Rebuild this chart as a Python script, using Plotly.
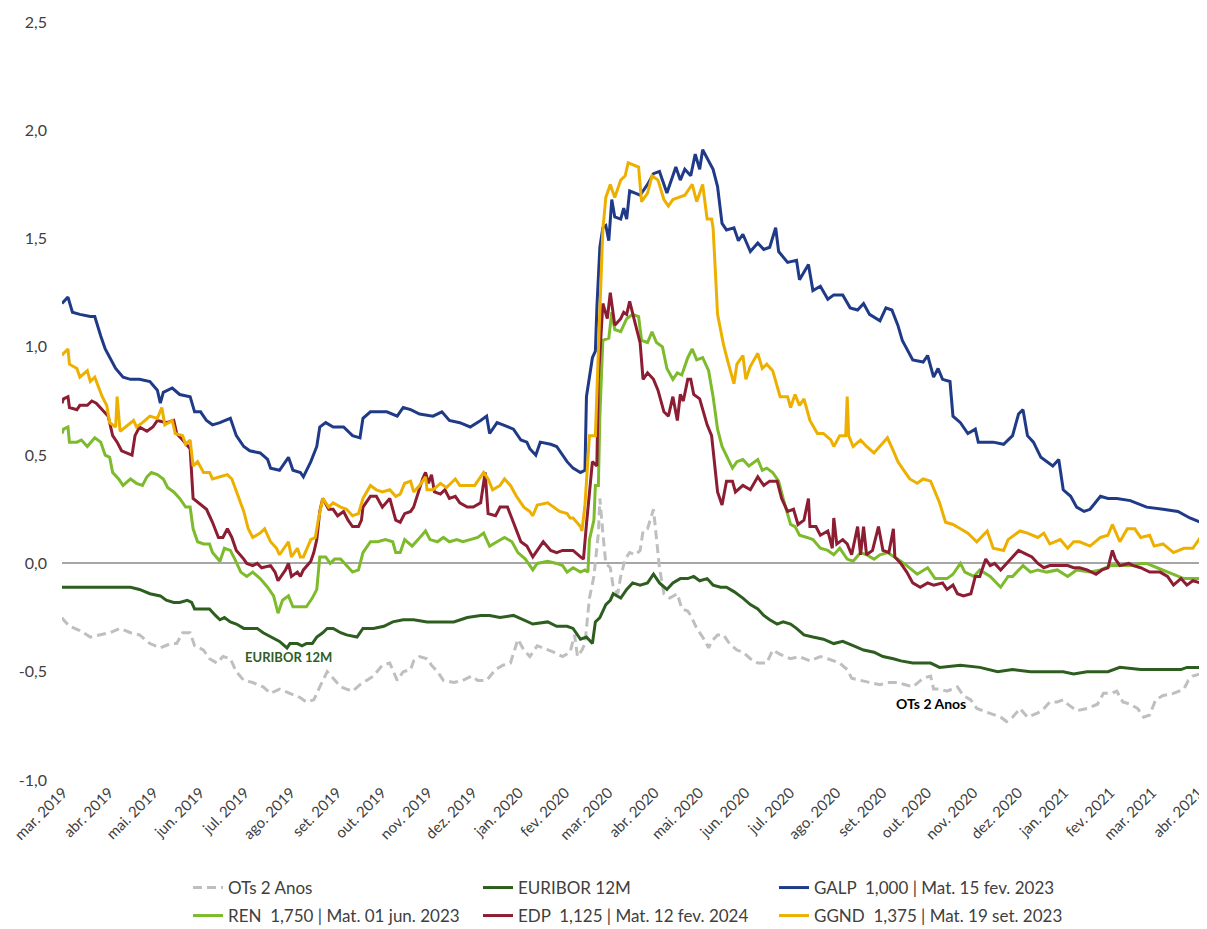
import pandas as pd
import plotly.graph_objects as go

START = pd.Timestamp("2019-03-01")

# (days since 2019-03-01, value)
ots_2anos = [(0,-0.25),(1,-0.26),(5,-0.29),(12,-0.31),(19,-0.34),(26,-0.33),(32,-0.32),(39,-0.30),(46,-0.32),(52,-0.33),(59,-0.37),(66,-0.39),(73,-0.37),(77,-0.37),(81,-0.32),(86,-0.32),(89,-0.38),(95,-0.40),(99,-0.44),(104,-0.46),(108,-0.43),(113,-0.44),(117,-0.50),(122,-0.54),(128,-0.55),(135,-0.57),(140,-0.60),(146,-0.58),(153,-0.60),(160,-0.62),(164,-0.64),(169,-0.63),(173,-0.57),(178,-0.50),(182,-0.53),(187,-0.57),(191,-0.58),(195,-0.59),(200,-0.56),(205,-0.54),(209,-0.52),(215,-0.47),(220,-0.46),(225,-0.54),(229,-0.50),(234,-0.49),(236,-0.45),(240,-0.43),(245,-0.44),(248,-0.47),(252,-0.50),(256,-0.54),(263,-0.55),(269,-0.54),(275,-0.52),(279,-0.54),(285,-0.54),(291,-0.49),(296,-0.47),(301,-0.46),(304,-0.40),(306,-0.35),(310,-0.40),(314,-0.43),(319,-0.38),(323,-0.39),(330,-0.41),(336,-0.43),(341,-0.41),(344,-0.33),(346,-0.43),(349,-0.40),(351,-0.37),(354,-0.16),(357,-0.06),(360,0.14),(361,0.30),(363,0.14),(365,0.00),(368,-0.02),(370,-0.11),(373,-0.14),(375,-0.06),(378,0.02),(381,0.05),(385,0.04),(388,0.06),(390,0.15),(393,0.16),(397,0.25),(399,0.12),(401,-0.02),(404,-0.14),(408,-0.16),(413,-0.14),(416,-0.21),(420,-0.22),(422,-0.24),(426,-0.30),(430,-0.34),(434,-0.39),(436,-0.36),(440,-0.33),(444,-0.33),(448,-0.37),(453,-0.40),(457,-0.41),(462,-0.44),(467,-0.46),(473,-0.46),(477,-0.40),(482,-0.42),(489,-0.44),(495,-0.43),(502,-0.45),(509,-0.43),(514,-0.44),(518,-0.45),(522,-0.46),(527,-0.49),(530,-0.53),(536,-0.54),(542,-0.55),(549,-0.56),(554,-0.55),(561,-0.55),(566,-0.56),(571,-0.57),(578,-0.53),(583,-0.52),(585,-0.58),(589,-0.58),(594,-0.59),(601,-0.57),(605,-0.61),(610,-0.63),(614,-0.67),(618,-0.68),(623,-0.69),(630,-0.71),(634,-0.73),(638,-0.71),(643,-0.67),(648,-0.71),(655,-0.69),(659,-0.67),(663,-0.64),(668,-0.64),(672,-0.63),(675,-0.65),(681,-0.68),(688,-0.67),(695,-0.65),(699,-0.60),(704,-0.60),(708,-0.59),(712,-0.64),(717,-0.65),(722,-0.67),(726,-0.71),(730,-0.70),(734,-0.63),(739,-0.61),(746,-0.60),(753,-0.58),(756,-0.54),(759,-0.52),(764,-0.51),(769,-0.53)]

euribor_12m = [(0,-0.11),(26,-0.11),(46,-0.11),(52,-0.12),(59,-0.14),(66,-0.15),(70,-0.17),(75,-0.18),(79,-0.18),(84,-0.17),(87,-0.18),(89,-0.21),(99,-0.21),(103,-0.24),(106,-0.26),(109,-0.25),(113,-0.27),(117,-0.28),(122,-0.30),(126,-0.30),(131,-0.30),(135,-0.32),(140,-0.34),(146,-0.36),(151,-0.39),(153,-0.37),(158,-0.37),(161,-0.38),(164,-0.37),(168,-0.37),(171,-0.34),(175,-0.32),(178,-0.30),(182,-0.30),(187,-0.32),(191,-0.33),(198,-0.34),(202,-0.30),(209,-0.30),(216,-0.29),(222,-0.27),(229,-0.26),(236,-0.26),(245,-0.27),(254,-0.27),(263,-0.27),(272,-0.25),(281,-0.24),(287,-0.24),(294,-0.25),(303,-0.24),(310,-0.26),(316,-0.28),(326,-0.27),(332,-0.29),(339,-0.29),(343,-0.30),(348,-0.35),(352,-0.34),(356,-0.37),(358,-0.27),(361,-0.25),(365,-0.19),(368,-0.17),(370,-0.14),(375,-0.16),(379,-0.12),(383,-0.09),(388,-0.10),(393,-0.09),(397,-0.05),(401,-0.09),(406,-0.12),(410,-0.09),(415,-0.07),(420,-0.07),(424,-0.06),(428,-0.08),(433,-0.07),(437,-0.10),(442,-0.11),(446,-0.11),(451,-0.13),(457,-0.16),(462,-0.19),(467,-0.21),(471,-0.24),(475,-0.26),(480,-0.28),(484,-0.27),(489,-0.28),(493,-0.30),(498,-0.33),(504,-0.34),(511,-0.35),(518,-0.37),(524,-0.36),(531,-0.38),(538,-0.40),(545,-0.41),(551,-0.43),(558,-0.44),(563,-0.45),(571,-0.46),(583,-0.46),(589,-0.48),(603,-0.47),(616,-0.48),(628,-0.50),(638,-0.49),(650,-0.50),(661,-0.50),(672,-0.50),(679,-0.51),(688,-0.50),(702,-0.50),(710,-0.48),(724,-0.49),(737,-0.49),(751,-0.49),(755,-0.48),(769,-0.48)]

galp = [(0,1.20),(4,1.23),(7,1.16),(12,1.15),(19,1.14),(22,1.14),(26,1.05),(29,0.99),(36,0.90),(41,0.86),(46,0.85),(52,0.85),(59,0.84),(64,0.80),(66,0.74),(68,0.79),(74,0.81),(79,0.78),(86,0.77),(89,0.70),(93,0.70),(97,0.66),(101,0.64),(106,0.65),(113,0.67),(117,0.59),(122,0.54),(126,0.52),(133,0.51),(138,0.48),(140,0.44),(146,0.43),(152,0.49),(155,0.43),(160,0.42),(162,0.40),(167,0.47),(171,0.54),(173,0.63),(177,0.65),(182,0.63),(189,0.63),(195,0.59),(200,0.58),(202,0.67),(207,0.70),(218,0.70),(225,0.68),(229,0.72),(234,0.71),(240,0.69),(249,0.68),(255,0.70),(260,0.66),(267,0.65),(274,0.63),(281,0.66),(285,0.68),(287,0.60),(292,0.65),(296,0.64),(303,0.62),(308,0.57),(312,0.56),(314,0.53),(318,0.50),(321,0.56),(328,0.55),(332,0.54),(336,0.50),(339,0.47),(343,0.44),(348,0.42),(351,0.43),(352,0.77),(356,0.95),(358,0.98),(359,1.18),(361,1.46),(363,1.55),(365,1.56),(367,1.49),(369,1.68),(371,1.60),(375,1.59),(377,1.64),(379,1.59),(381,1.72),(388,1.70),(393,1.75),(397,1.80),(401,1.81),(404,1.75),(406,1.71),(412,1.83),(415,1.77),(418,1.82),(422,1.79),(425,1.89),(428,1.82),(430,1.91),(434,1.86),(437,1.82),(440,1.74),(443,1.57),(446,1.54),(451,1.55),(454,1.49),(457,1.52),(462,1.44),(467,1.48),(471,1.45),(475,1.46),(479,1.55),(481,1.44),(487,1.39),(493,1.40),(495,1.31),(501,1.38),(504,1.26),(509,1.28),(514,1.22),(518,1.24),(524,1.24),(529,1.18),(534,1.17),(538,1.20),(542,1.15),(549,1.12),(553,1.18),(557,1.17),(561,1.10),(564,1.03),(571,0.94),(578,0.93),(581,0.96),(585,0.86),(588,0.90),(591,0.85),(596,0.84),(598,0.68),(603,0.65),(608,0.60),(613,0.62),(615,0.56),(625,0.56),(632,0.55),(638,0.59),(642,0.69),(645,0.71),(648,0.59),(652,0.56),(657,0.49),(665,0.45),(669,0.48),(672,0.34),(677,0.31),(681,0.26),(686,0.24),(690,0.25),(697,0.31),(702,0.30),(708,0.30),(717,0.29),(728,0.26),(739,0.25),(749,0.24),(757,0.21),(764,0.19),(769,0.17)]

ren = [(0,0.60),(1,0.62),(4,0.63),(5,0.56),(10,0.56),(13,0.57),(17,0.54),(22,0.58),(26,0.56),(29,0.50),(32,0.49),(34,0.42),(38,0.39),(41,0.36),(46,0.39),(50,0.37),(54,0.36),(57,0.40),(60,0.42),(64,0.41),(68,0.39),(71,0.35),(75,0.33),(79,0.30),(83,0.26),(86,0.26),(88,0.16),(91,0.10),(95,0.09),(99,0.09),(101,0.05),(106,0.01),(109,0.07),(113,0.06),(116,0.02),(120,-0.04),(124,-0.06),(128,-0.04),(133,-0.07),(138,-0.11),(142,-0.15),(145,-0.23),(148,-0.17),(152,-0.15),(155,-0.20),(160,-0.20),(164,-0.20),(168,-0.16),(171,-0.12),(173,0.03),(177,0.03),(180,0.00),(183,0.02),(187,0.02),(191,-0.01),(195,-0.04),(199,-0.03),(202,0.05),(207,0.10),(212,0.10),(217,0.11),(222,0.10),(224,0.05),(227,0.05),(230,0.11),(235,0.08),(239,0.11),(244,0.15),(247,0.11),(252,0.10),(256,0.12),(260,0.10),(265,0.11),(269,0.10),(274,0.11),(279,0.12),(283,0.14),(287,0.08),(292,0.10),(297,0.12),(302,0.10),(306,0.05),(311,0.02),(316,-0.03),(319,0.00),(326,0.01),(332,0.00),(336,-0.01),(339,-0.04),(343,-0.02),(348,-0.04),(351,-0.03),(353,-0.04),(354,0.11),(357,0.20),(358,0.36),(360,0.36),(361,0.68),(363,1.03),(367,1.04),(369,1.16),(371,1.08),(375,1.07),(379,1.13),(383,1.15),(387,1.14),(389,1.03),(393,1.02),(396,1.07),(399,1.02),(403,1.00),(406,0.90),(410,0.85),(413,0.88),(416,0.87),(420,0.95),(423,0.99),(426,0.94),(430,0.95),(434,0.89),(437,0.77),(440,0.62),(443,0.54),(446,0.50),(450,0.44),(453,0.47),(457,0.48),(461,0.45),(467,0.48),(470,0.43),(473,0.44),(477,0.42),(481,0.38),(484,0.30),(489,0.18),(492,0.17),(495,0.13),(500,0.12),(504,0.11),(509,0.07),(514,0.06),(518,0.04),(522,0.07),(527,0.02),(531,0.01),(536,0.05),(540,0.04),(545,0.02),(549,0.04),(554,0.05),(559,0.03),(563,0.01),(567,-0.01),(574,-0.05),(581,-0.02),(586,-0.07),(594,-0.07),(598,-0.05),(603,0.00),(606,-0.04),(612,-0.06),(616,-0.03),(623,-0.06),(630,-0.11),(635,-0.06),(638,-0.06),(645,-0.01),(650,-0.04),(655,-0.03),(661,-0.04),(668,-0.03),(675,-0.06),(681,-0.03),(690,-0.04),(697,-0.03),(704,-0.01),(710,-0.01),(717,-0.01),(724,0.00),(728,0.00),(735,-0.02),(742,-0.04),(746,-0.05),(753,-0.07),(759,-0.07),(764,-0.07),(769,-0.07)]

edp = [(0,0.74),(1,0.76),(4,0.77),(5,0.72),(10,0.71),(12,0.73),(17,0.73),(20,0.75),(23,0.74),(28,0.70),(31,0.68),(34,0.59),(37,0.56),(40,0.52),(44,0.51),(47,0.50),(49,0.59),(52,0.63),(57,0.61),(61,0.63),(64,0.66),(70,0.65),(75,0.66),(77,0.60),(81,0.57),(86,0.53),(88,0.30),(93,0.27),(97,0.25),(101,0.19),(105,0.12),(108,0.12),(111,0.16),(114,0.12),(117,0.06),(122,0.02),(124,0.00),(128,-0.01),(131,0.00),(134,-0.02),(140,-0.01),(143,-0.04),(145,-0.08),(150,-0.03),(152,0.00),(154,-0.06),(158,-0.04),(160,-0.06),(162,-0.03),(167,0.01),(169,0.05),(171,0.11),(173,0.24),(175,0.30),(179,0.25),(182,0.25),(185,0.22),(189,0.24),(192,0.20),(195,0.17),(199,0.17),(201,0.20),(202,0.26),(207,0.31),(211,0.31),(215,0.26),(220,0.30),(224,0.20),(227,0.19),(230,0.23),(234,0.24),(236,0.26),(239,0.33),(242,0.39),(244,0.42),(246,0.37),(248,0.41),(250,0.33),(254,0.32),(257,0.34),(260,0.30),(264,0.31),(267,0.28),(272,0.26),(276,0.26),(281,0.28),(284,0.42),(286,0.23),(291,0.22),(294,0.26),(299,0.26),(303,0.19),(308,0.10),(312,0.08),(316,0.03),(319,0.06),(323,0.10),(328,0.06),(332,0.05),(336,0.06),(341,0.06),(343,0.06),(348,0.03),(350,0.02),(352,0.18),(356,0.47),(359,0.45),(360,0.85),(363,1.20),(366,1.13),(368,1.25),(371,1.10),(375,1.13),(377,1.16),(379,1.15),(381,1.21),(385,1.10),(388,1.02),(390,0.85),(393,0.88),(397,0.85),(400,0.80),(404,0.70),(407,0.68),(410,0.77),(413,0.66),(415,0.78),(417,0.75),(420,0.85),(422,0.85),(424,0.78),(428,0.76),(433,0.64),(436,0.59),(440,0.33),(443,0.27),(446,0.38),(450,0.38),(452,0.33),(457,0.36),(462,0.34),(467,0.40),(471,0.36),(475,0.38),(480,0.38),(483,0.30),(487,0.24),(491,0.25),(494,0.18),(498,0.20),(501,0.30),(502,0.17),(506,0.17),(509,0.13),(514,0.15),(517,0.07),(518,0.21),(520,0.09),(524,0.11),(527,0.09),(530,0.04),(534,0.17),(536,0.04),(538,0.17),(540,0.04),(544,0.06),(548,0.17),(551,0.06),(555,0.05),(558,0.16),(559,0.03),(563,0.00),(567,-0.04),(571,-0.09),(576,-0.11),(581,-0.09),(585,-0.10),(591,-0.09),(594,-0.12),(598,-0.10),(601,-0.14),(605,-0.15),(610,-0.14),(613,-0.06),(616,-0.06),(620,0.02),(623,-0.01),(626,0.00),(630,-0.03),(634,0.00),(638,0.03),(642,0.06),(645,0.05),(651,0.03),(655,0.00),(659,-0.02),(663,-0.01),(670,-0.01),(675,-0.01),(679,-0.02),(683,-0.02),(688,-0.03),(694,-0.05),(698,-0.03),(702,-0.02),(705,0.06),(707,0.02),(710,-0.01),(716,0.00),(719,-0.01),(724,-0.02),(730,-0.04),(737,-0.04),(742,-0.06),(746,-0.10),(751,-0.07),(755,-0.10),(759,-0.08),(764,-0.09),(769,-0.10)]

ggnd = [(0,0.96),(1,0.97),(4,0.99),(5,0.92),(10,0.90),(12,0.86),(17,0.89),(19,0.84),(22,0.86),(24,0.82),(27,0.77),(30,0.73),(32,0.65),(36,0.63),(37,0.77),(39,0.61),(44,0.64),(48,0.66),(50,0.63),(54,0.65),(59,0.68),(64,0.67),(67,0.72),(69,0.64),(74,0.66),(76,0.60),(81,0.59),(83,0.55),(86,0.57),(88,0.45),(91,0.47),(95,0.42),(99,0.42),(101,0.39),(106,0.40),(111,0.41),(114,0.39),(117,0.33),(122,0.24),(125,0.16),(128,0.12),(133,0.14),(136,0.16),(140,0.10),(144,0.07),(146,0.04),(152,0.10),(154,0.03),(158,0.07),(160,0.03),(162,0.03),(167,0.11),(170,0.12),(172,0.20),(175,0.30),(179,0.26),(182,0.28),(187,0.26),(191,0.25),(195,0.22),(199,0.23),(202,0.30),(207,0.36),(211,0.34),(215,0.33),(220,0.34),(224,0.31),(227,0.32),(230,0.37),(234,0.38),(236,0.33),(240,0.36),(244,0.40),(245,0.34),(249,0.34),(254,0.37),(258,0.35),(264,0.39),(267,0.36),(272,0.36),(277,0.36),(283,0.42),(286,0.39),(289,0.34),(294,0.36),(297,0.39),(301,0.36),(305,0.31),(310,0.26),(314,0.24),(316,0.22),(319,0.27),(326,0.28),(330,0.26),(334,0.24),(339,0.23),(341,0.21),(343,0.21),(348,0.17),(349,0.15),(351,0.27),(354,0.59),(358,0.59),(360,0.98),(363,1.54),(365,1.69),(368,1.75),(371,1.69),(375,1.77),(378,1.79),(380,1.85),(387,1.83),(389,1.67),(393,1.71),(396,1.79),(400,1.77),(404,1.68),(407,1.65),(410,1.68),(414,1.69),(418,1.70),(423,1.75),(426,1.67),(430,1.75),(433,1.59),(436,1.59),(437,1.55),(440,1.15),(444,1.01),(447,0.93),(451,0.83),(453,0.92),(457,0.96),(459,0.85),(462,0.91),(467,0.97),(470,0.90),(473,0.92),(477,0.89),(482,0.77),(487,0.77),(489,0.72),(492,0.78),(495,0.73),(498,0.76),(502,0.66),(507,0.60),(511,0.60),(516,0.57),(518,0.54),(522,0.59),(526,0.59),(527,0.77),(528,0.59),(531,0.54),(536,0.57),(540,0.54),(545,0.51),(551,0.56),(554,0.58),(558,0.52),(561,0.47),(565,0.43),(569,0.39),(574,0.37),(578,0.39),(583,0.38),(589,0.28),(593,0.19),(598,0.18),(603,0.16),(608,0.14),(614,0.10),(621,0.15),(625,0.07),(632,0.06),(635,0.11),(643,0.15),(648,0.14),(655,0.12),(659,0.14),(663,0.09),(670,0.11),(675,0.07),(679,0.10),(683,0.10),(690,0.08),(697,0.12),(702,0.13),(705,0.18),(710,0.10),(715,0.16),(720,0.16),(724,0.12),(730,0.13),(733,0.08),(739,0.09),(746,0.05),(753,0.07),(759,0.07),(764,0.12),(769,0.09)]

series_names = ["OTs 2 Anos", "EURIBOR 12M", "GALP\u00a0 1,000 | Mat. 15 fev. 2023",
                "REN\u00a0 1,750 | Mat. 01 jun. 2023", "EDP\u00a0 1,125 | Mat. 12 fev. 2024",
                "GGND\u00a0 1,375 | Mat. 19 set. 2023"]
series_data = [ots_2anos, euribor_12m, galp, ren, edp, ggnd]
series_colors = ["#BFBFBF", "#2E5E1F", "#1F3A87", "#7DBB2D", "#8C1D33", "#EDB000"]

tick_dates = pd.date_range("2019-03-01", "2021-04-01", freq="MS")
tick_labels = ["mar. 2019", "abr. 2019", "mai. 2019", "jun. 2019", "jul. 2019", "ago. 2019",
               "set. 2019", "out. 2019", "nov. 2019", "dez. 2019", "jan. 2020", "fev. 2020",
               "mar. 2020", "abr. 2020", "mai. 2020", "jun. 2020", "jul. 2020", "ago. 2020",
               "set. 2020", "out. 2020", "nov. 2020", "dez. 2020", "jan. 2021", "fev. 2021",
               "mar. 2021", "abr. 2021"]
y_ticks = [-1.0, -0.5, 0.0, 0.5, 1.0, 1.5, 2.0, 2.5]
y_labels = ["-1,0", "-0,5", "0,0", "0,5", "1,0", "1,5", "2,0", "2,5"]

FONT = "Lato, 'Open Sans', sans-serif"
TEXT = "#404040"

# The page body keeps its 8px default margin, so the figure is drawn 8px in
W, H = 1199, 921
# legend slots (left edge, row centre) in figure pixels
legend_cols = [180, 470, 766]
legend_rows = [880, 908]
legend_ids = ["legend", "legend2", "legend3", "legend4", "legend5", "legend6"]

fig = go.Figure()
for i, (name, data, color) in enumerate(zip(series_names, series_data, series_colors)):
    days = [d for d, _ in data]
    vals = [v for _, v in data]
    x = [START + pd.Timedelta(days=d) for d in days]
    line = dict(color=color, width=3)
    if i == 0:
        line["dash"] = "9px,5px"
    fig.add_trace(go.Scatter(x=x, y=vals, mode="lines", name=name, line=line,
                             legend=legend_ids[i]))

fig.add_annotation(x="2019-07-31", y=-0.43, text="<b>EURIBOR 12M</b>", showarrow=False,
                   font=dict(family=FONT, size=13, color="#2E5E1F"))
fig.add_annotation(x="2020-10-04", y=-0.646, text="<b>OTs 2 Anos</b>", showarrow=False,
                   font=dict(family=FONT, size=14, color="#000000"))

legends = {}
for i, lid in enumerate(legend_ids):
    col, row = i % 3, i // 3
    legends[lid] = dict(
        orientation="h", xref="container", yref="container",
        xanchor="left", yanchor="middle",
        x=legend_cols[col] / W, y=1 - legend_rows[row] / H,
        bgcolor="rgba(0,0,0,0)", borderwidth=0,
        font=dict(family=FONT, size=17, color=TEXT))

fig.update_layout(
    width=W, height=H,
    margin=dict(l=54, r=0, t=14, b=149, autoexpand=False),
    plot_bgcolor="white", paper_bgcolor="white",
    separators=",.",
    font=dict(family=FONT, size=15, color=TEXT),
    showlegend=True,
    xaxis=dict(type="date", range=["2019-03-01", "2021-04-07 12:00"],
               tickvals=list(tick_dates), ticktext=tick_labels, tickangle=-45,
               showgrid=False, zeroline=False, showline=False, ticks="",
               automargin=False, ticklabelshift=1, ticklabeloverflow="allow",
               tickfont=dict(family=FONT, size=15, color=TEXT)),
    yaxis=dict(range=[-1.0, 2.5], tickvals=y_ticks, ticktext=y_labels,
               showgrid=False, zeroline=True, zerolinecolor="#A6A6A6", zerolinewidth=1.5,
               showline=False, ticks="", ticklabelstandoff=14, automargin=False,
               tickfont=dict(family=FONT, size=16, color=TEXT)),
    **legends,
)

fig.write_html("out.html")
